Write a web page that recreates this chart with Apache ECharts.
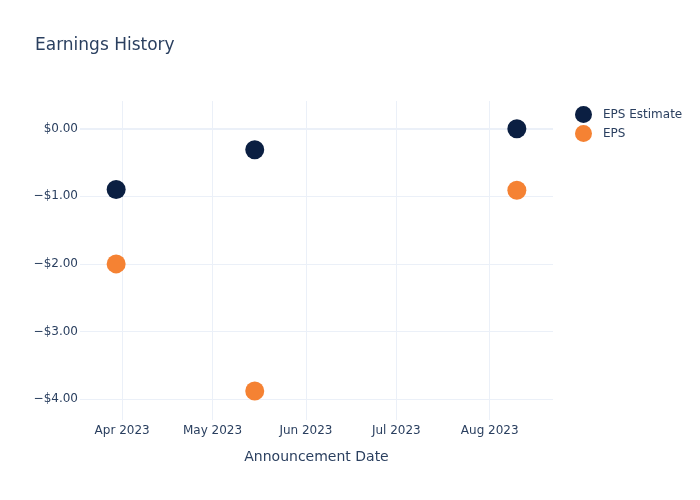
<!DOCTYPE html>
<html><head><meta charset="utf-8">
<script src="https://cdn.jsdelivr.net/npm/echarts@6/dist/echarts.min.js"></script>
<style>html,body{margin:0;padding:0;background:#fff}#c{width:700px;height:500px}</style>
</head><body><div id="c"></div>
<script>
var dates = ['2023-03-30', '2023-05-15', '2023-08-10'];
var epsEstimate = [-0.90, -0.31, 0.00];
var eps = [-2.00, -3.88, -0.91];
var yTicks = [0, -1, -2, -3, -4];
var xTicks = ['2023-04-01', '2023-05-01', '2023-06-01', '2023-07-01', '2023-08-01'];
var monthNames = ['Jan','Feb','Mar','Apr','May','Jun','Jul','Aug','Sep','Oct','Nov','Dec'];

function fmtMoney(v) {
  var s = '$' + Math.abs(v).toFixed(2);
  return v < 0 ? '\u2212' + s : s;
}
var txt = '#2a3f5f';
var gridColor = '#EBF0F8';
var font = 'DejaVu Sans, sans-serif';
var chart = echarts.init(document.getElementById('c'), null, {renderer: 'canvas'});
var t = function (s) { return echarts.time.parse(s).getTime(); };

var hLines = yTicks.map(function (v) {
  return {yAxis: v, lineStyle: {color: gridColor, width: v === 0 ? 2 : 1, type: 'solid'}};
});
var vLines = xTicks.map(function (d) {
  return {xAxis: t(d), lineStyle: {color: gridColor, width: 1, type: 'solid'}};
});

chart.setOption({
  animation: false,
  backgroundColor: '#fff',
  title: {text: 'Earnings History', left: 35, top: 37, padding: 0,
    textStyle: {color: txt, fontSize: 17, fontWeight: 'normal', fontFamily: font}},
  legend: {orient: 'vertical', left: 570, top: 101, itemWidth: 17, itemHeight: 17, itemGap: 2,
    icon: 'circle',
    textStyle: {color: txt, fontSize: 12, fontFamily: font, padding: [0, 0, 0, 6]},
    data: ['EPS Estimate', 'EPS']},
  grid: {left: 80, right: 147, top: 101, bottom: 80},
  xAxis: {
    type: 'time',
    min: t('2023-03-18'), max: t('2023-08-22'),
    name: 'Announcement Date', nameLocation: 'middle', nameGap: 30,
    nameTextStyle: {color: txt, fontSize: 14, fontFamily: font},
    axisLine: {show: false}, axisTick: {show: false}, splitLine: {show: false},
    axisLabel: {show: false}
  },
  yAxis: {
    type: 'value', min: -4.31, max: 0.41,
    axisLine: {show: false}, axisTick: {show: false}, splitLine: {show: false},
    axisLabel: {
      color: txt, fontSize: 12, margin: 2, fontFamily: font,
      showMinLabel: false, showMaxLabel: false,
      formatter: function (v) {
        return Math.abs(v - Math.round(v)) < 1e-6 ? fmtMoney(v) : '';
      }
    }
  },
  series: [
    {
      name: 'grid', type: 'scatter', data: [], silent: true,
      markLine: {
        silent: true, symbol: 'none', animation: false, z: 0,
        label: {show: false},
        data: hLines
      }
    },
    {
      name: 'xgrid', type: 'scatter', data: [], silent: true,
      markLine: {
        silent: true, symbol: 'none', animation: false, z: 0,
        label: {show: true, position: 'start', distance: 5, color: txt, fontSize: 12,
          fontFamily: font,
          formatter: function (p) {
            var d = new Date(p.value);
            return monthNames[d.getMonth()] + ' ' + d.getFullYear();
          }},
        data: vLines
      }
    },
    {
      name: 'EPS Estimate', type: 'scatter', symbolSize: 19, z: 5,
      itemStyle: {color: '#0B1F42', opacity: 1},
      data: dates.map(function (d, i) { return [t(d), epsEstimate[i]]; })
    },
    {
      name: 'EPS', type: 'scatter', symbolSize: 19, z: 5,
      itemStyle: {color: '#F58233', opacity: 1},
      data: dates.map(function (d, i) { return [t(d), eps[i]]; })
    }
  ]
});
</script></body></html>
